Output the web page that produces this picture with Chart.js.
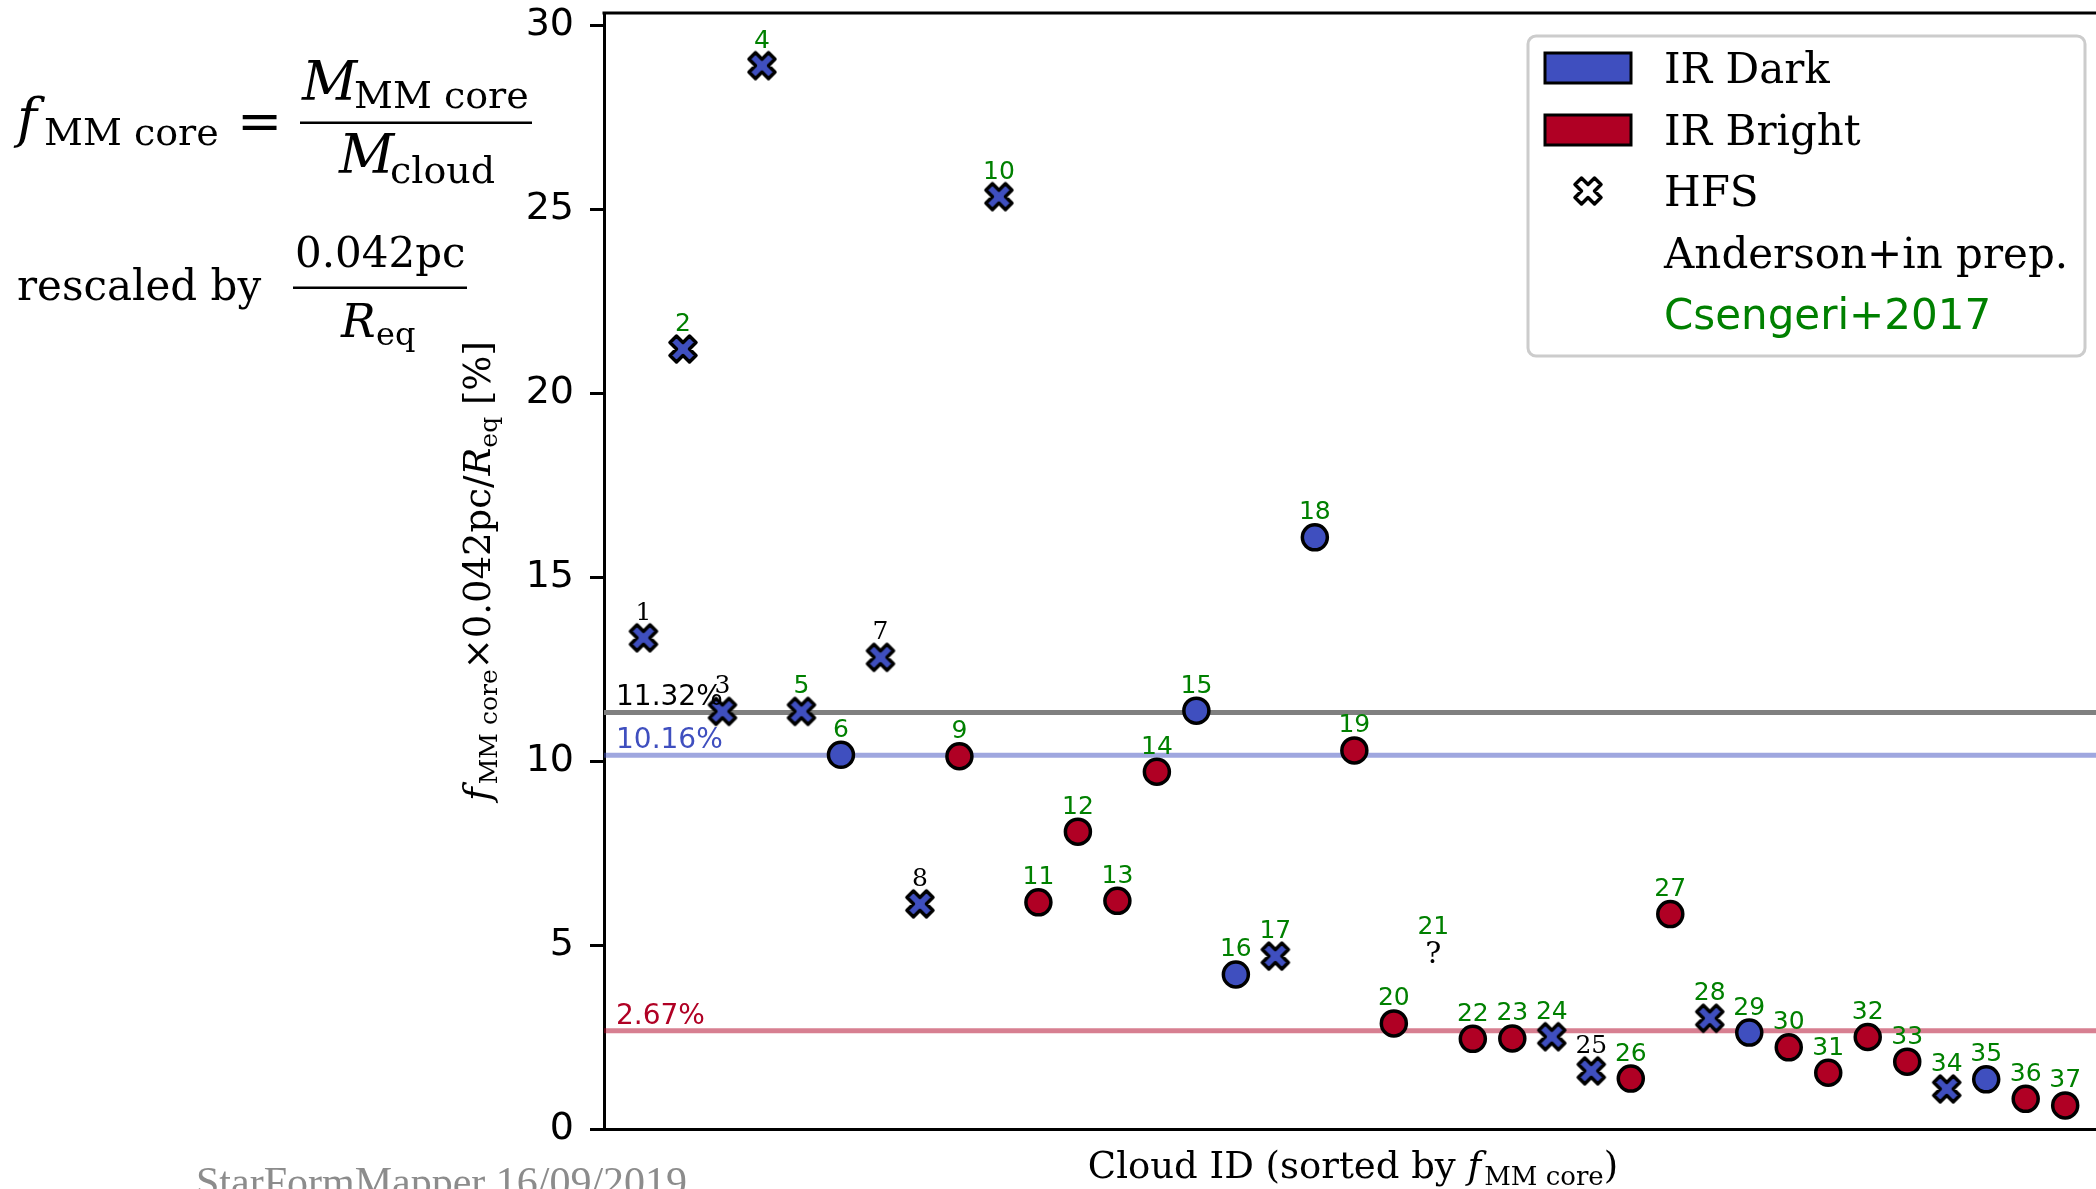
<!DOCTYPE html>
<html>
<head>
<meta charset="utf-8">
<script src="https://cdn.jsdelivr.net/npm/chart.js@4.4.0/dist/chart.umd.min.js"></script>
<style>
html, body { margin: 0; padding: 0; background: #fff; overflow: hidden; }
#wrap { width: 2096px; height: 1189px; }
</style>
</head>
<body>
<div id="wrap"><canvas id="fracChart" width="2096" height="1189"></canvas></div>
<script>
// cloud IDs, sorted by f_MM core
const cloudIds = [1, 2, 3, 4, 5, 6, 7, 8, 9, 10, 11, 12, 13, 14, 15, 16, 17, 18, 19, 20,
  21, 22, 23, 24, 25, 26, 27, 28, 29, 30, 31, 32, 33, 34, 35, 36, 37];
// f_MM core x 0.042pc / R_eq  [%]
const fValues = [13.35, 21.2, 11.35, 28.9, 11.35, 10.17, 12.82, 6.12, 10.13, 25.34,
  6.16, 8.08, 6.2, 9.71, 11.37, 4.2, 4.7, 16.08, 10.29, 2.87,
  4.8, 2.45, 2.46, 2.51, 1.58, 1.37, 5.84, 3.01, 2.62, 2.22,
  1.53, 2.5, 1.83, 1.09, 1.35, 0.82, 0.64];
// dark = IR Dark, bright = IR Bright, hfs = HFS, unknown = '?'
const cloudType = ['hfs', 'hfs', 'hfs', 'hfs', 'hfs', 'dark', 'hfs', 'hfs', 'bright', 'hfs',
  'bright', 'bright', 'bright', 'bright', 'dark', 'dark', 'hfs', 'dark', 'bright', 'bright',
  'unknown', 'bright', 'bright', 'hfs', 'hfs', 'bright', 'bright', 'hfs', 'dark', 'bright',
  'bright', 'bright', 'bright', 'hfs', 'dark', 'bright', 'bright'];
// A = Anderson+in prep., C = Csengeri+2017
const idSource = ['A', 'C', 'A', 'C', 'C', 'C', 'A', 'A', 'C', 'C',
  'C', 'C', 'C', 'C', 'C', 'C', 'C', 'C', 'C', 'C',
  'C', 'C', 'C', 'C', 'A', 'C', 'C', 'C', 'C', 'C',
  'C', 'C', 'C', 'C', 'C', 'C', 'C'];
// mean values (all, IR Dark, IR Bright)
const meanValues = [11.32, 10.16, 2.67];
const meanLabels = ['11.32%', '10.16%', '2.67%'];
const yTicks = [0, 5, 10, 15, 20, 25, 30];

const BLUE = '#3f4fbf';
const RED = '#b00024';
const GREEN = '#008000';
const X_MIN = 0, X_MAX = 37.78, Y_MAX = 30.33;

// filled "X" marker like matplotlib's
const xPts = [[-1, -2], [0, -1], [1, -2], [2, -1], [1, 0], [2, 1], [1, 2], [0, 1], [-1, 2], [-2, 1], [-1, 0], [-2, -1]];
function xPath(ctx, cx, cy, k) {
  ctx.beginPath();
  xPts.forEach((p, i) => {
    const px = cx + p[0] * k, py = cy + p[1] * k;
    if (i === 0) ctx.moveTo(px, py); else ctx.lineTo(px, py);
  });
  ctx.closePath();
}
function makeXMarker(fill) {
  const c = document.createElement('canvas');
  c.width = 34; c.height = 34;
  const g = c.getContext('2d');
  xPath(g, 17, 17, 6.5);
  g.fillStyle = fill;
  g.fill();
  g.lineWidth = 3.5;
  g.lineJoin = 'round';
  g.strokeStyle = '#000';
  g.stroke();
  return c;
}
const hfsMarker = makeXMarker(BLUE);
const hfsLegendMarker = makeXMarker('#fff');

function pointsOf(type) {
  return cloudIds.filter((id, i) => cloudType[i] === type).map(id => ({ x: id, y: fValues[id - 1] }));
}

const meanColors = ['#808080', 'rgba(63,79,191,0.5)', 'rgba(176,0,36,0.5)'];
const meanTextColors = ['#000', BLUE, RED];

const datasets = [
  ...meanValues.map((v, i) => ({
    type: 'line',
    data: [{ x: X_MIN, y: v }, { x: X_MAX, y: v }],
    borderColor: meanColors[i],
    borderWidth: 5,
    pointRadius: 0,
    order: 2
  })),
  { label: 'IR Dark', data: pointsOf('dark'), backgroundColor: BLUE, borderColor: '#000', borderWidth: 3.5, pointRadius: 12.5, order: 1 },
  { label: 'IR Bright', data: pointsOf('bright'), backgroundColor: RED, borderColor: '#000', borderWidth: 3.5, pointRadius: 12.5, order: 1 },
  { label: 'HFS', data: pointsOf('hfs'), pointStyle: hfsMarker, pointRadius: 17, order: 1 }
];

function drawRuns(ctx, x, y, runs, align) {
  let total = 0;
  runs.forEach(r => { ctx.font = r[1]; r.w = ctx.measureText(r[0]).width + (r[3] || 0); total += r.w; });
  let cx = align === 'center' ? x - total / 2 : x;
  ctx.textAlign = 'left';
  ctx.textBaseline = 'alphabetic';
  runs.forEach(r => { ctx.font = r[1]; ctx.fillText(r[0], cx, y + (r[2] || 0)); cx += r.w; });
}

const SERIF = '"DejaVu Serif"';
const SANS = '"DejaVu Sans"';

const annotations = {
  id: 'annotations',
  afterDatasetsDraw(chart) {
    const { ctx, chartArea } = chart;
    const xs = chart.scales.x, ys = chart.scales.y;
    ctx.save();
    // mean line labels
    ctx.font = '28px ' + SANS;
    ctx.textAlign = 'left';
    ctx.textBaseline = 'alphabetic';
    meanValues.forEach((v, i) => {
      ctx.fillStyle = meanTextColors[i];
      ctx.fillText(meanLabels[i], chartArea.left + 12, ys.getPixelForValue(v) - 7);
    });
    // cloud ID labels
    ctx.textAlign = 'center';
    cloudIds.forEach((id, i) => {
      const px = xs.getPixelForValue(id), py = ys.getPixelForValue(fValues[i]);
      if (idSource[i] === 'A') { ctx.font = '25px ' + SERIF; ctx.fillStyle = '#000'; }
      else { ctx.font = '25px ' + SANS; ctx.fillStyle = GREEN; }
      ctx.fillText(String(id), px, py - 18);
      if (cloudType[i] === 'unknown') {
        ctx.font = '30px ' + SERIF;
        ctx.fillStyle = '#000';
        ctx.fillText('?', px, py + 11);
      }
    });
    ctx.restore();
  },
  afterDraw(chart) {
    const { ctx, chartArea } = chart;
    ctx.save();
    // top frame line
    ctx.strokeStyle = '#000';
    ctx.lineWidth = 3;
    ctx.beginPath();
    ctx.moveTo(chartArea.left - 1.5, chartArea.top);
    ctx.lineTo(chartArea.right, chartArea.top);
    ctx.stroke();

    ctx.fillStyle = '#000';
    // x title
    drawRuns(ctx, 1353, 1178, [
      ['Cloud ID (sorted by ', '37px ' + SERIF],
      ['f', 'italic 37px ' + SERIF, 0, 3],
      ['MM core', '26px ' + SERIF, 7],
      [')', '37px ' + SERIF]
    ], 'center');
    // y title
    ctx.save();
    ctx.translate(490, (chartArea.top + chartArea.bottom) / 2);
    ctx.rotate(-Math.PI / 2);
    drawRuns(ctx, 0, 0, [
      ['f', 'italic 37px ' + SERIF, 0, 3],
      ['MM core', '25px ' + SERIF, 7],
      ['\u00d7', '37px ' + SERIF],
      ['0.042pc', '37px ' + SERIF],
      ['/', '37px ' + SERIF],
      ['R', 'italic 37px ' + SERIF],
      ['eq', '25px ' + SERIF, 7],
      [' [%]', '37px ' + SERIF]
    ], 'center');
    ctx.restore();

    // formula at the left
    drawRuns(ctx, 17, 137, [['f', 'italic 54px ' + SERIF, 0, 6]]);
    drawRuns(ctx, 44, 145, [['MM core', '38px ' + SERIF]]);
    drawRuns(ctx, 237, 140, [['=', '54px ' + SERIF]]);
    drawRuns(ctx, 302, 100, [['M', 'italic 54px ' + SERIF, 0, 2]]);
    drawRuns(ctx, 354, 108, [['MM core', '38px ' + SERIF]]);
    drawRuns(ctx, 339, 173, [['M', 'italic 54px ' + SERIF, 0, 2]]);
    drawRuns(ctx, 390, 183, [['cloud', '38px ' + SERIF]]);
    ctx.fillRect(300, 121.5, 232, 2.5);
    drawRuns(ctx, 17, 300, [['rescaled by', '42px ' + SERIF]]);
    drawRuns(ctx, 295, 267, [['0.042pc', '42px ' + SERIF]]);
    ctx.fillRect(293, 286.5, 174, 2.5);
    drawRuns(ctx, 341, 337, [['R', 'italic 46px ' + SERIF, 0, 2]]);
    drawRuns(ctx, 376, 345, [['eq', '32px ' + SERIF]]);

    // watermark
    ctx.fillStyle = '#8c8c8c';
    drawRuns(ctx, 196, 1196, [['StarFormMapper 16/09/2019', '42px "Liberation Serif"']]);

    // legend
    ctx.fillStyle = 'rgba(255,255,255,0.85)';
    ctx.strokeStyle = '#cccccc';
    ctx.lineWidth = 3;
    ctx.beginPath();
    ctx.roundRect(1528, 36, 557, 320, 8);
    ctx.fill();
    ctx.stroke();
    const rows = [68, 130, 191, 253, 314];
    ctx.lineWidth = 3;
    ctx.strokeStyle = '#000';
    [BLUE, RED].forEach((c, i) => {
      ctx.fillStyle = c;
      ctx.fillRect(1545, rows[i] - 15, 86, 30);
      ctx.strokeRect(1545, rows[i] - 15, 86, 30);
    });
    ctx.drawImage(hfsLegendMarker, 1588 - 17, rows[2] - 17);
    const legendTexts = [['IR Dark', SERIF, '#000'], ['IR Bright', SERIF, '#000'], ['HFS', SERIF, '#000'],
      ['Anderson+in prep.', SERIF, '#000'], ['Csengeri+2017', SANS, GREEN]];
    legendTexts.forEach((t, i) => {
      ctx.fillStyle = t[2];
      drawRuns(ctx, 1664, rows[i] + 15, [[t[0], '42px ' + t[1]]]);
    });
    ctx.restore();
  }
};

new Chart(document.getElementById('fracChart').getContext('2d'), {
  type: 'scatter',
  data: { datasets },
  options: {
    responsive: false,
    animation: false,
    devicePixelRatio: 1,
    events: [],
    layout: { autoPadding: false, padding: { top: 13, left: 0, right: 0, bottom: 0 } },
    plugins: { legend: { display: false }, tooltip: { enabled: false } },
    scales: {
      x: {
        type: 'linear', min: X_MIN, max: X_MAX,
        ticks: { display: false },
        grid: { drawOnChartArea: false, drawTicks: false },
        border: { color: '#000', width: 3 },
        afterFit: s => { s.height = 60; s.paddingLeft = 0; s.paddingRight = 0; }
      },
      y: {
        type: 'linear', min: 0, max: Y_MAX,
        afterBuildTicks: s => { s.ticks = yTicks.map(v => ({ value: v })); },
        ticks: { padding: 16, color: '#000', font: { family: 'DejaVu Sans', size: 38 } },
        grid: { drawOnChartArea: false, drawTicks: true, tickLength: 14, tickWidth: 3, tickColor: '#000' },
        border: { color: '#000', width: 3 },
        afterFit: s => { s.width = 604; s.paddingTop = 0; s.paddingBottom = 0; }
      }
    }
  },
  plugins: [annotations]
});
</script>
</body>
</html>
